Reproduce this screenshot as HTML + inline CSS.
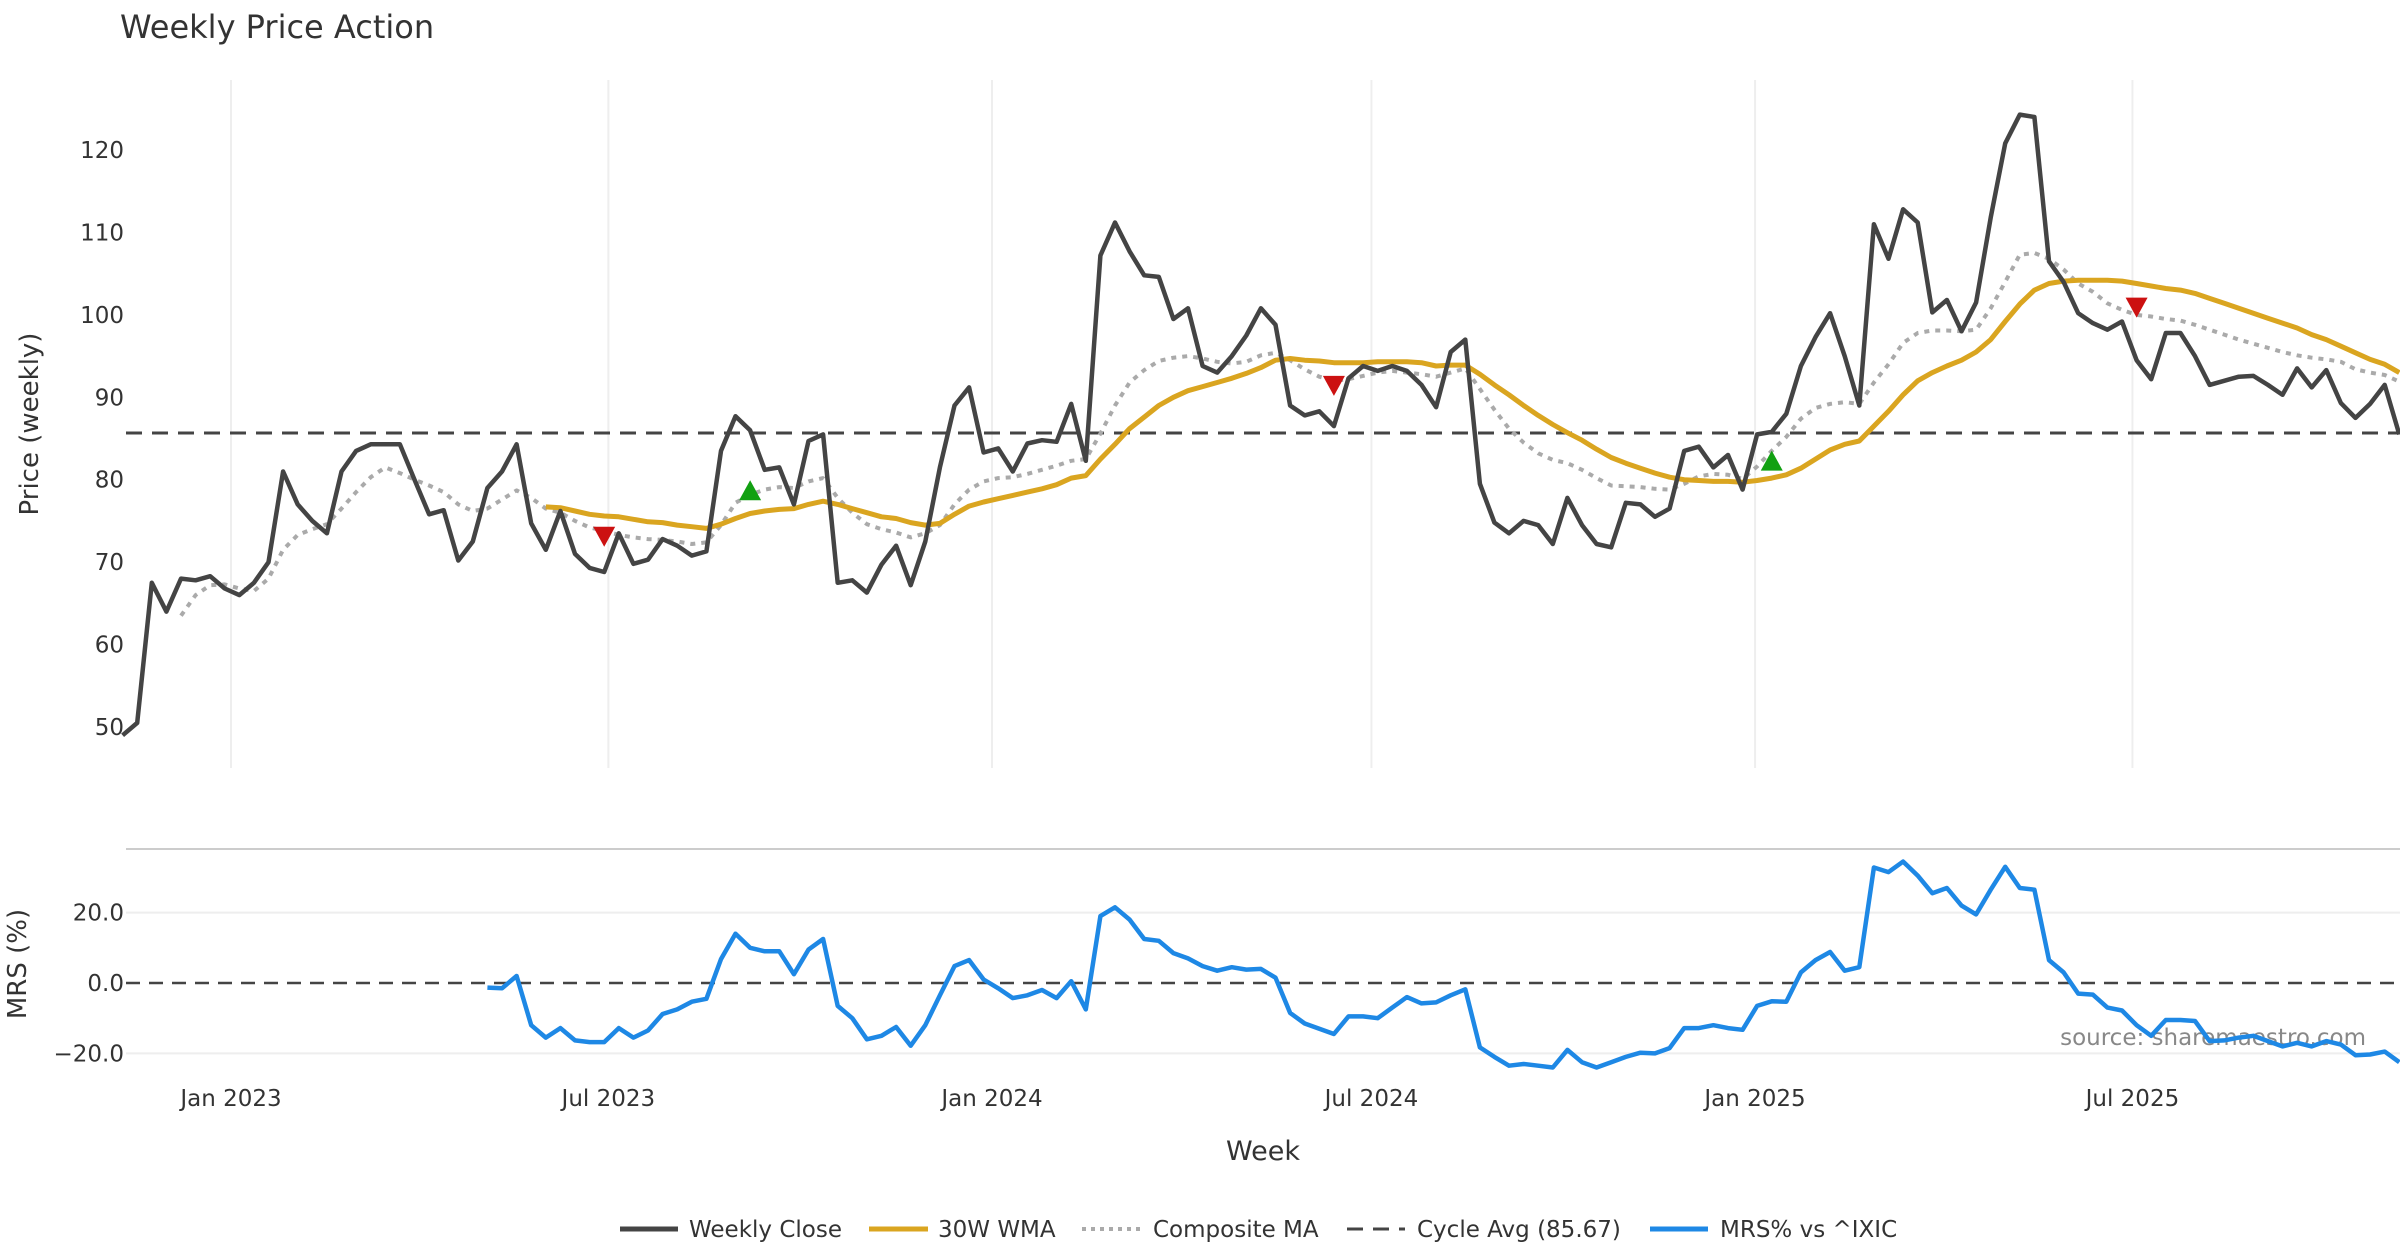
<!DOCTYPE html>
<html><head><meta charset="utf-8"><style>
html,body{margin:0;padding:0;background:#fff;}
svg{display:block;font-family:"DejaVu Sans","Liberation Sans",sans-serif;}
</style></head>
<body>
<svg id="chart" width="2400" height="1260" viewBox="0 0 2400 1260" xmlns="http://www.w3.org/2000/svg">
<rect width="2400" height="1260" fill="#fff"/>
<text x="120" y="38" font-size="32" fill="#333">Weekly Price Action</text>
<text transform="translate(38,424) rotate(-90)" text-anchor="middle" font-size="26" fill="#333">Price (weekly)</text>
<text transform="translate(26,964) rotate(-90)" text-anchor="middle" font-size="26" fill="#333">MRS (%)</text>
<line x1="126" y1="849" x2="2400" y2="849" stroke="#ccc" stroke-width="2"/>
<text x="1263" y="1160" text-anchor="middle" font-size="27" fill="#333">Week</text>
<text x="2366" y="1045" text-anchor="end" font-size="23" fill="#888">source: sharemaestro.com</text>
<g id="grid"></g><g id="series"></g><g id="ticks"></g>
<g font-size="23" fill="#333">
 <g><line x1="620" y1="1229" x2="678" y2="1229" stroke="#444" stroke-width="5"/><text x="689" y="1237">Weekly Close</text></g>
 <g><line x1="869" y1="1229" x2="928" y2="1229" stroke="#DAA520" stroke-width="5"/><text x="938" y="1237">30W WMA</text></g>
 <g><line x1="1082" y1="1229" x2="1140" y2="1229" stroke="#aaa" stroke-width="4" stroke-dasharray="4,5"/><text x="1153" y="1237">Composite MA</text></g>
 <g><line x1="1347" y1="1229" x2="1405" y2="1229" stroke="#444" stroke-width="3" stroke-dasharray="16,10"/><text x="1417" y="1237">Cycle Avg (85.67)</text></g>
 <g><line x1="1650" y1="1229" x2="1708" y2="1229" stroke="#1E88E5" stroke-width="5"/><text x="1720" y="1237">MRS% vs ^IXIC</text></g>
</g>
</svg>
<script>
const closeVals=[49,50.5,67.5,64,68,67.8,68.3,66.8,66,67.5,70,81,77,75,73.5,81,83.5,84.3,84.3,84.3,80,75.8,76.3,70.2,72.5,79,81,84.3,74.7,71.5,76.2,71,69.3,68.8,73.5,69.8,70.3,72.8,72,70.8,71.3,83.5,87.7,86,81.2,81.5,77,84.7,85.5,67.5,67.8,66.3,69.7,72,67.2,72.5,81.5,89,91.2,83.3,83.8,81,84.4,84.8,84.6,89.2,82.3,107.2,111.2,107.7,104.8,104.6,99.5,100.8,93.8,93,95,97.5,100.8,98.8,89,87.8,88.3,86.5,92.3,93.8,93.2,93.8,93.2,91.5,88.8,95.5,97,79.5,74.8,73.5,75,74.5,72.2,77.8,74.5,72.2,71.8,77.2,77,75.5,76.5,83.5,84,81.5,83,78.8,85.5,85.8,88,93.8,97.3,100.2,95,89,111,106.8,112.8,111.2,100.3,101.8,98,101.5,111.8,120.8,124.3,124,106.5,104,100.2,99,98.2,99.2,94.5,92.2,97.8,97.8,95,91.5,92,92.5,92.6,91.5,90.3,93.5,91.2,93.3,89.3,87.5,89.2,91.5,85.5];
const wmaStart=29;
const wmaVals=[76.7,76.6,76.2,75.8,75.6,75.5,75.2,74.9,74.8,74.5,74.3,74.1,74.6,75.3,75.9,76.2,76.4,76.5,77.0,77.4,77.0,76.5,76.0,75.5,75.3,74.8,74.5,74.7,75.8,76.8,77.3,77.7,78.1,78.5,78.9,79.4,80.2,80.5,82.5,84.3,86.2,87.6,89.0,90.0,90.8,91.3,91.8,92.3,92.9,93.6,94.5,94.7,94.5,94.4,94.2,94.2,94.2,94.3,94.3,94.3,94.2,93.8,93.9,93.9,92.8,91.5,90.3,89.0,87.8,86.7,85.7,84.8,83.7,82.7,82.0,81.4,80.8,80.3,80.0,79.9,79.8,79.8,79.7,79.9,80.2,80.6,81.4,82.5,83.6,84.3,84.7,86.5,88.3,90.3,92.0,93.0,93.8,94.5,95.5,97.0,99.2,101.3,103.0,103.8,104.1,104.2,104.2,104.2,104.1,103.8,103.5,103.2,103.0,102.6,102.0,101.4,100.8,100.2,99.6,99.0,98.4,97.6,97.0,96.2,95.4,94.6,94.0,93.0];
const compStart=4;
const compVals=[63.5,66,67.2,67.3,66.8,66.5,68,71.5,73.3,74,74.6,76.5,78.5,80.3,81.5,80.8,80,79.3,78.5,77,76.2,76.5,77.6,78.7,77.8,76.5,76,75,74.2,73.8,73.3,73,72.8,72.7,72.5,72.2,72.4,74.5,77.2,78.2,78.8,79.1,79,79.8,80.2,77.8,76,74.6,74,73.6,73.0,73.5,74.5,77,78.8,79.8,80.2,80.3,80.7,81.2,81.7,82.3,82.5,85.6,89,91.8,93.3,94.4,94.8,95,94.7,94.3,94.1,94.3,95.1,95.4,94.5,93.4,92.5,92.0,92.2,92.6,93.0,93.2,93.0,92.8,92.5,93.0,93.5,91.0,88.5,86.2,84.5,83.2,82.4,82.0,81.2,80.2,79.3,79.2,79.1,78.9,78.8,79.5,80.4,80.7,80.6,80.1,81.6,83.5,85.2,87.4,88.7,89.2,89.4,89.2,91.8,94,96.6,97.8,98.1,98.1,98.0,98.2,100.8,104,107.3,107.5,106.8,105.5,103.8,102.8,101.4,100.6,100.0,99.8,99.5,99.3,98.8,98.2,97.6,97.0,96.5,96.0,95.5,95.1,94.8,94.6,94.3,93.4,93.0,92.7,91.9];
const mrsStart=25;
const mrsVals=[-1.3,-1.5,2,-12,-15.5,-12.8,-16.3,-16.8,-16.8,-12.8,-15.5,-13.5,-8.8,-7.5,-5.3,-4.5,6.8,14,10,9,9,2.5,9.5,12.5,-6.5,-10,-16,-15,-12.5,-17.8,-12,-3.5,4.8,6.5,1,-1.5,-4.3,-3.5,-2,-4.3,0.5,-7.5,19,21.5,18,12.5,12,8.5,7,4.8,3.5,4.5,3.8,4,1.5,-8.5,-11.5,-13,-14.5,-9.5,-9.5,-10,-7,-4,-5.8,-5.5,-3.5,-1.8,-18.3,-21,-23.5,-23,-23.5,-24,-19,-22.5,-24,-22.5,-21,-19.8,-20,-18.5,-12.8,-12.8,-12,-12.8,-13.3,-6.5,-5.2,-5.3,3,6.5,8.8,3.5,4.5,32.8,31.5,34.5,30.5,25.5,27,22,19.5,26.5,33,27,26.5,6.5,3,-3,-3.3,-7,-7.8,-12,-15,-10.5,-10.5,-10.8,-16.5,-16.3,-15.5,-15,-16.5,-18,-17,-18,-16.5,-17.5,-20.5,-20.3,-19.5,-22.5];
const cycleAvg=85.67;
const signalIdx=[33,43,83,113,138];
const signalVals=[73.2,78.6,91.5,82.2,101];
const signalDir=['down','up','down','up','down'];
const priceTicks=[50,60,70,80,90,100,110,120];
const mrsTicks=[-20,0,20];
const mrsTickLabels=['\u221220.0','0.0','20.0'];
const xTickDates=['2023-01-01','2023-07-01','2024-01-01','2024-07-01','2025-01-01','2025-07-01'];
const xTickLabels=['Jan 2023','Jul 2023','Jan 2024','Jul 2024','Jan 2025','Jul 2025'];

const NS='http://www.w3.org/2000/svg';
const DAY=86400000, T0=Date.UTC(2023,0,1), START=Date.UTC(2022,10,10);
const xTime=t=>231+(t-T0)/DAY*2.0849;
const xIdx=i=>xTime(START+i*7*DAY);
const yP=v=>150+(120-v)*8.243;
const yM=v=>983-v*3.52;
function mk(tag,attrs,parent){const e=document.createElementNS(NS,tag);for(const k in attrs)e.setAttribute(k,attrs[k]);parent.appendChild(e);return e;}
const grid=document.getElementById('grid'),ser=document.getElementById('series'),tk=document.getElementById('ticks');
xTickDates.forEach((d,k)=>{
  const x=xTime(Date.parse(d));
  const g=mk('line',{x1:x,y1:80,x2:x,y2:768,stroke:'#eee','stroke-width':2},grid);
  
  
  const t=mk('text',{x:x,y:1106,'text-anchor':'middle','font-size':23,fill:'#333'},tk);
  t.textContent=xTickLabels[k];
  
  
});
priceTicks.forEach(v=>{
  const t=mk('text',{x:124,y:yP(v)+8,'text-anchor':'end','font-size':23,fill:'#333'},tk);
  t.textContent=v;
  
  
});
mrsTicks.forEach((v,k)=>{
  if(v!==0){const g=mk('line',{x1:126,y1:yM(v),x2:2400,y2:yM(v),stroke:'#eee','stroke-width':2},grid);
  
  }
  const t=mk('text',{x:124,y:yM(v)+8,'text-anchor':'end','font-size':23,fill:'#333'},tk);
  t.textContent=mrsTickLabels[k];
  
  
});
function path(vals,start,ys,attrs,name){
  const d=vals.map((v,j)=>(j?'L':'M')+xIdx(start+j).toFixed(1)+','+ys(v).toFixed(1)).join('');
  const p=mk('path',Object.assign({d:d,fill:'none','stroke-linejoin':'round'},attrs),ser);
  
  
}
const cl=mk('line',{x1:126,y1:yP(cycleAvg),x2:2400,y2:yP(cycleAvg),stroke:'#444','stroke-width':3,'stroke-dasharray':'16,10'},ser);


const zl=mk('line',{x1:126,y1:yM(0),x2:2400,y2:yM(0),stroke:'#444','stroke-width':2.5,'stroke-dasharray':'14,9'},ser);


path(compVals,compStart,yP,{stroke:'#aaa','stroke-width':4,'stroke-dasharray':'5,6'},'composite-ma-line');
path(wmaVals,wmaStart,yP,{stroke:'#DAA520','stroke-width':5},'wma-30w-line');
path(closeVals,0,yP,{stroke:'#444','stroke-width':4.5},'weekly-close-line');
path(mrsVals,mrsStart,yM,{stroke:'#1E88E5','stroke-width':4.5},'mrs-line');
signalIdx.forEach((i,k)=>{
  const x=xIdx(i),y=yP(signalVals[k]),s=11;
  const pts=signalDir[k]==='up'?`${x-s},${y+9} ${x+s},${y+9} ${x},${y-11}`:`${x-s},${y-9} ${x+s},${y-9} ${x},${y+11}`;
  const m=mk('polygon',{points:pts,fill:signalDir[k]==='up'?'#12A012':'#CC1111'},ser);
  
  
});
</script>
</body></html>
